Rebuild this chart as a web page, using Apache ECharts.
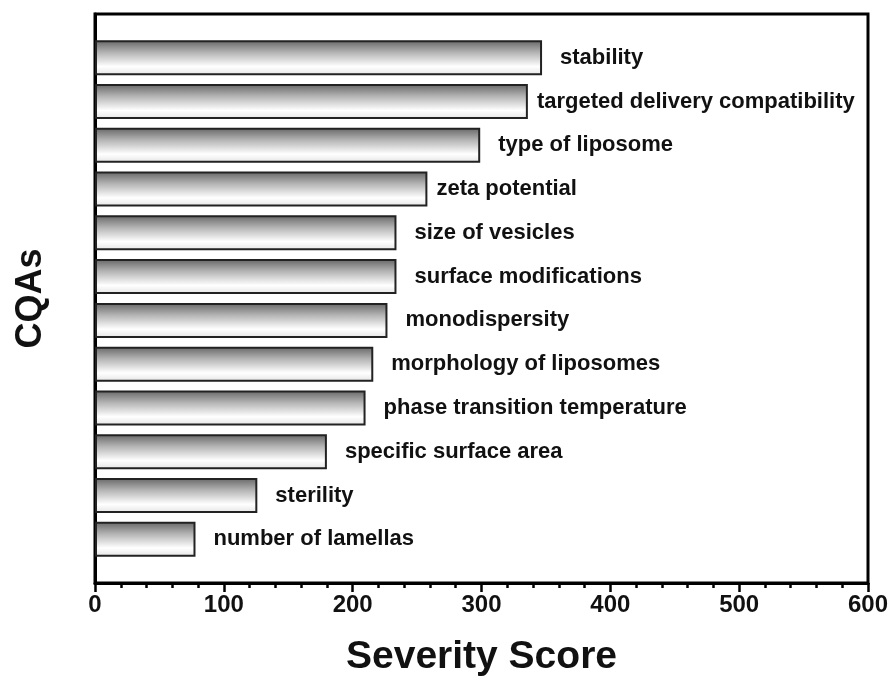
<!DOCTYPE html>
<html>
<head>
<meta charset="utf-8">
<script src="https://cdn.jsdelivr.net/npm/echarts@6/dist/echarts.min.js"></script>
<style>
  html, body { margin: 0; padding: 0; background: #fff; }
  #main { width: 894px; height: 678px; }
</style>
</head>
<body>
<div id="main"></div>
<script>
// CQAs, top to bottom
var cqas = ['stability', 'targeted delivery compatibility', 'type of liposome', 'zeta potential',
    'size of vesicles', 'surface modifications', 'monodispersity', 'morphology of liposomes',
    'phase transition temperature', 'specific surface area', 'sterility', 'number of lamellas'];
var scores = [347, 336, 299, 258, 234, 234, 227, 216, 210, 180, 126, 78];
var xTicks = [0, 100, 200, 300, 400, 500, 600];

var chart = echarts.init(document.getElementById('main'));
var font = 'Liberation Sans, Arial, sans-serif';

// empty slot at each end so the frame has half a band of room
var cats = [''].concat(cqas).concat(['']);
var barData = ['-'];
for (var i = 0; i < scores.length; i++) {
    var item = {value: scores[i]};
    // these two labels sit closer to their bars in the original
    if (i === 1 || i === 3) item.label = {distance: 9};
    barData.push(item);
}
barData.push('-');

var option = {
    animation: false,
    backgroundColor: '#fff',
    grid: {
        left: 95, right: 26, top: 14, bottom: 95,
        outerBoundsMode: 'none',
        show: true, borderColor: '#000', borderWidth: 3
    },
    xAxis: {
        type: 'value',
        min: xTicks[0],
        max: xTicks[xTicks.length - 1],
        interval: 100,
        name: 'Severity Score',
        nameLocation: 'middle',
        nameGap: 55,
        nameTextStyle: {fontFamily: font, fontWeight: 'bold', fontSize: 39, color: '#111'},
        axisLine: {show: true, lineStyle: {color: '#000', width: 3}},
        axisTick: {show: true, length: 9, lineStyle: {color: '#000', width: 2.5}},
        minorTick: {show: true, splitNumber: 5, length: 5, lineStyle: {color: '#000', width: 2.5}},
        splitLine: {show: false},
        axisLabel: {fontFamily: font, fontWeight: 'bold', fontSize: 24, color: '#111', margin: 10}
    },
    yAxis: {
        type: 'category',
        data: cats,
        inverse: true,
        boundaryGap: false,
        name: 'CQAs',
        nameLocation: 'middle',
        nameGap: 46,
        nameRotate: 90,
        nameTextStyle: {fontFamily: font, fontWeight: 'bold', fontSize: 36, color: '#111'},
        axisLine: {show: true, lineStyle: {color: '#000', width: 3}},
        axisTick: {show: false},
        axisLabel: {show: false},
        splitLine: {show: false}
    },
    series: [{
        type: 'bar',
        data: barData,
        barWidth: 35,
        itemStyle: {
            borderColor: '#222',
            borderWidth: 2,
            color: new echarts.graphic.LinearGradient(0, 0, 0, 1, [
                {offset: 0, color: '#656565'},
                {offset: 0.35, color: '#b4b4b4'},
                {offset: 0.75, color: '#ffffff'},
                {offset: 1, color: '#e4e4e4'}
            ])
        },
        label: {
            show: true,
            position: 'right',
            distance: 18,
            formatter: function (p) { return p.name; },
            fontFamily: font,
            fontWeight: 'bold',
            fontSize: 22,
            color: '#111'
        }
    }]
};

chart.setOption(option);
</script>
</body>
</html>
